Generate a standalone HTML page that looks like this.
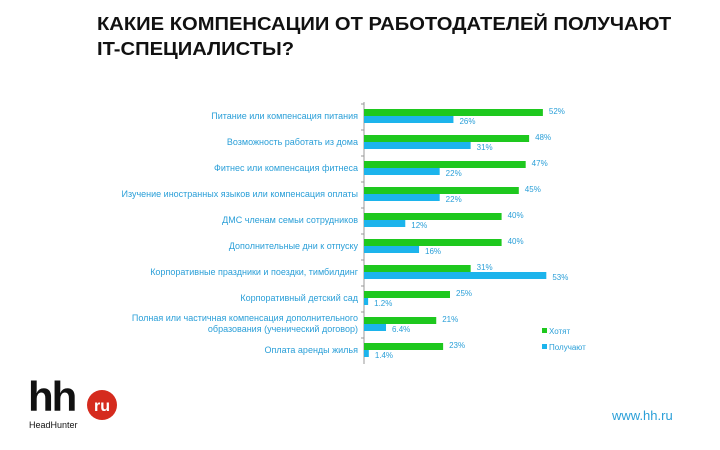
<!DOCTYPE html>
<html><head><meta charset="utf-8"><style>
body{margin:0;width:720px;height:450px;background:#fff;overflow:hidden;font-family:"Liberation Sans",sans-serif;position:relative}
#title{position:absolute;left:97px;top:12px;font-size:18px;font-weight:bold;line-height:25px;color:#111;transform:scaleX(1.12);transform-origin:0 0;white-space:nowrap}
#www{position:absolute;left:612px;top:408px;font-size:13px;color:#2a9fd8}
</style></head><body>
<div id="title">КАКИЕ КОМПЕНСАЦИИ ОТ РАБОТОДАТЕЛЕЙ ПОЛУЧАЮТ<br>IT-СПЕЦИАЛИСТЫ?</div>
<svg id="logo" width="120" height="70" style="position:absolute;left:20px;top:372px">
<text x="8" y="39" font-family="Liberation Sans,sans-serif" font-weight="bold" font-size="42" fill="#111" letter-spacing="-2">hh</text>
<circle cx="82" cy="33" r="15" fill="#d52b1e"/>
<text x="82" y="39" text-anchor="middle" font-family="Liberation Sans,sans-serif" font-weight="bold" font-size="16" fill="#fff">ru</text>
<text x="9" y="56" font-family="Liberation Sans,sans-serif" font-size="9" fill="#111">HeadHunter</text>
</svg>
<div id="www">www.hh.ru</div>
<svg id="chart" width="720" height="450" style="position:absolute;left:0;top:0"></svg>
<script>
const categories=["Питание или компенсация питания","Возможность работать из дома","Фитнес или компенсация фитнеса","Изучение иностранных языков или компенсация оплаты","ДМС членам семьи сотрудников","Дополнительные дни к отпуску","Корпоративные праздники и поездки, тимбилдинг","Корпоративный детский сад","Полная или частичная компенсация дополнительного|образования (ученический договор)","Оплата аренды жилья"];
const wantValues=[52,48,47,45,40,40,31,25,21,23];
const getValues=[26,31,22,22,12,16,53,1.2,6.4,1.4];
const wantLabels=["52%","48%","47%","45%","40%","40%","31%","25%","21%","23%"];
const getLabels=["26%","31%","22%","22%","12%","16%","53%","1.2%","6.4%","1.4%"];
const seriesNames=["Хотят","Получают"];
const svg=document.getElementById('chart');const NS="http://www.w3.org/2000/svg";
const x0=364,pxPer=3.44,yTop=104,rowH=26;
const xs=v=>x0+v*pxPer;const ys=i=>yTop+i*rowH;
function mk(t,a){const e=document.createElementNS(NS,t);for(const k in a)e.setAttribute(k,a[k]);svg.appendChild(e);return e;}
const ax=mk('line',{x1:x0,y1:yTop-2,x2:x0,y2:yTop+rowH*categories.length,stroke:'#999','stroke-width':1});


categories.forEach((c,i)=>{
 const y=ys(i);
 const tk=mk('line',{x1:x0-3,y1:y,x2:x0,y2:y,stroke:'#999'});
 
 
 const g=mk('rect',{x:x0,y:y+5,width:xs(wantValues[i])-x0,height:7,fill:'#1ec81e'});
 
 
 const b=mk('rect',{x:x0,y:y+12,width:xs(getValues[i])-x0,height:7,fill:'#1cb4ec'});
 
 
 const lines=c.split('|');
 lines.forEach((ln,j)=>{
  const t=mk('text',{x:358,y:y+(lines.length>1?9+j*11:15),'text-anchor':'end','font-size':9,fill:'#2a9fd8','font-family':'Liberation Sans,sans-serif'});
  t.textContent=ln;
  
  
 });
 const wl=mk('text',{x:xs(wantValues[i])+6,y:y+10,'font-size':8,fill:'#2a9fd8','font-family':'Liberation Sans,sans-serif'});
 wl.textContent=wantLabels[i];
 
 
 const gl=mk('text',{x:xs(getValues[i])+6,y:y+20,'font-size':8,fill:'#2a9fd8','font-family':'Liberation Sans,sans-serif'});
 gl.textContent=getLabels[i];
 
 
});
const cols=['#1ec81e','#1cb4ec'];
seriesNames.forEach((s,i)=>{
 const r=mk('rect',{x:542,y:328+i*16,width:5,height:5,fill:cols[i]});
 
 
 const t=mk('text',{x:549,y:334+i*16,'font-size':8,fill:'#2a9fd8','font-family':'Liberation Sans,sans-serif'});
 t.textContent=s;
 
 
});
</script>
</body></html>
